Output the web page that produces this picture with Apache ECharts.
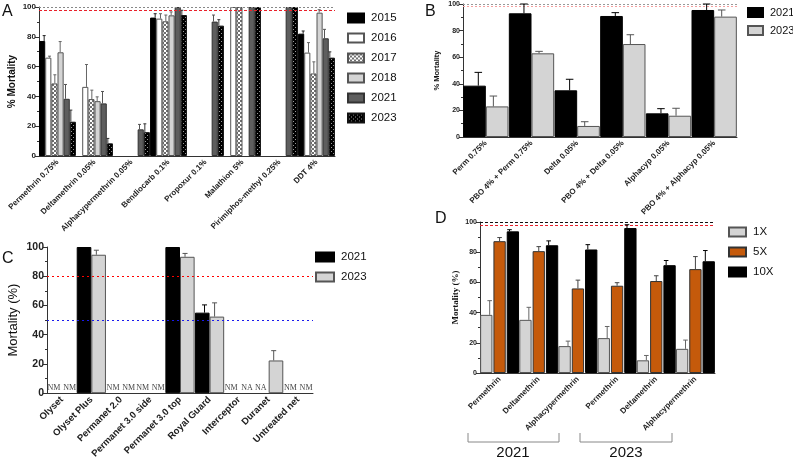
<!DOCTYPE html>
<html>
<head>
<meta charset="utf-8">
<script src="https://cdn.jsdelivr.net/npm/echarts@6/dist/echarts.min.js"></script>
<style>
  html, body { margin: 0; padding: 0; background: #fff; }
  #main { width: 793px; height: 461px; }
</style>
</head>
<body>
<div id="main"></div>
<script>
// Panel A: WHO tube tests by year
const aCats = ['Permethrin 0.75%', 'Deltamethrin 0.05%', 'Alphacypermethrin 0.05%', 'Bendiocarb 0.1%',
  'Propoxur 0.1%', 'Malathion 5%', 'Pirimiphos-methyl 0.25%', 'DDT 4%'];
const aYears = ['2015', '2016', '2017', '2018', '2021', '2023'];
const a2015 = [77.2, null, null, 92.9, null, null, null, 82.1];
const a2015Err = [80.8, null, null, 95.5, null, null, null, 83.9];
const a2016 = [66, 46.4, null, 92.2, null, 100, null, 69.4];
const a2016Err = [67, 61.4, null, 95.5, null, null, null, 76.1];
const a2017 = [48.7, 38.2, null, 90.4, null, 100, null, 55.4];
const a2017Err = [54.5, 44.2, null, 94.6, null, null, null, 63.2];
const a2018 = [69.6, 36.8, null, 94.4, null, null, null, 96.2];
const a2018Err = [76.8, 39.7, null, 96.7, null, null, null, 98.2];
const a2021 = [38.4, 35.3, 17.9, 100, 90.2, 100, 100, 79];
const a2021Err = [48, 43.3, 21.2, null, 94.6, null, null, 85];
const a2023 = [23, 8.5, 16, 94.6, 87.5, 100, 100, 66];
const a2023Err = [30.8, 11.8, 21.6, 97.8, 91.5, null, null, 69.9];

// Panel B: synergist assays
const bCats = ['Perm 0.75%', 'PBO 4% + Perm 0.75%', 'Delta 0.05%', 'PBO 4% + Delta 0.05%',
  'Alphacyp 0.05%', 'PBO 4% + Alphacyp 0.05%'];
const b2021 = [38.6, 93, 35.1, 91, 17.8, 95.5];
const b2021Err = [48.6, 100, 43.4, 93.5, 21.3, 100];
const b2023 = [23, 62.9, 8.3, 69.9, 16, 90.5];
const b2023Err = [30.8, 64.4, 11.5, 76.9, 21.6, 95.5];

// Panel C: net bioassays
const cCats = ['Olyset', 'Olyset Plus', 'Permanet 2.0', 'Permanet 3.0 side', 'Permanet 3.0 top',
  'Royal Guard', 'Interceptor', 'Duranet', 'Untreated net'];
const c2021 = [null, 100, null, null, 100, 55.1, null, null, null];
const c2021Err = [null, null, null, null, null, 60.4, null, null, null];
const c2023 = [null, 94.7, null, null, 93.3, 52.4, null, 22.4, null];
const c2023Err = [null, 97.8, null, null, 95.6, 61.8, null, 29.1, null];
const c2021Note = ['NM', null, 'NM', 'NM', null, null, 'NM', 'NA', 'NM'];
const c2023Note = ['NM', null, 'NM', 'NM', null, null, 'NA', null, 'NM'];

// Panel D: intensity assays
const dCats = ['Permethrin', 'Deltamethrin', 'Alphacypermethrin', 'Permethrin', 'Deltamethrin', 'Alphacypermethrin'];
const dYears = ['2021', '2023'];
const d1x = [38.5, 35.2, 17.8, 23.1, 8.4, 16];
const d1xErr = [47.9, 43.5, 21.1, 30.8, 11.6, 21.8];
const d5x = [87.3, 80.7, 56, 57.8, 60.9, 68.8];
const d5xErr = [89.7, 83.7, 61.5, 59.8, 64.4, 77.1];
const d10x = [93.8, 84.6, 81.8, 96, 71.4, 74];
const d10xErr = [94.9, 87.5, 85, 98.2, 74.5, 81.1];

const SANS = '"Liberation Sans", Arial, sans-serif';
const SERIF = '"Liberation Serif", "Times New Roman", serif';

function makePattern(draw) {
  const c = document.createElement('canvas');
  c.width = 4; c.height = 4;
  draw(c.getContext('2d'));
  return { image: c, repeat: 'repeat' };
}
const checker = makePattern(ctx => {
  ctx.fillStyle = '#fff'; ctx.fillRect(0, 0, 4, 4);
  ctx.fillStyle = '#707070'; ctx.fillRect(0, 0, 2, 2); ctx.fillRect(2, 2, 2, 2);
});
const dotted = makePattern(ctx => {
  ctx.fillStyle = '#000'; ctx.fillRect(0, 0, 4, 4);
  ctx.fillStyle = '#9a9a9a'; ctx.fillRect(1, 1, 1, 1); ctx.fillRect(3, 3, 1, 1);
});

function bar(name, axis, data, color, border, cat, gap, extra) {
  return Object.assign({
    name, type: 'bar', xAxisIndex: axis, yAxisIndex: axis, data,
    barCategoryGap: cat, barGap: gap,
    itemStyle: { color, borderColor: border, borderWidth: 1 },
    emphasis: { disabled: true }
  }, extra || {});
}

function errBars(axis, vals, errs, k, n, cat, gap, color) {
  const data = vals.map((v, i) => [i, v, errs[i]]).filter(d => d[1] != null && d[2] != null);
  return {
    type: 'custom', xAxisIndex: axis, yAxisIndex: axis, data, z: 5, silent: true,
    renderItem(params, api) {
      const band = api.size([1, 0])[0];
      const total = band * (1 - cat);
      const w = total / (n + (n - 1) * gap);
      const cx = api.coord([api.value(0), 0])[0] - total / 2 + k * w * (1 + gap) + w / 2;
      const y0 = api.coord([api.value(0), api.value(1)])[1];
      const y1 = api.coord([api.value(0), api.value(2)])[1];
      const hw = Math.max(w * 0.25, 1.5);
      return {
        type: 'group', children: [
          { type: 'line', shape: { x1: cx, y1: y0, x2: cx, y2: y1 }, style: { stroke: color, lineWidth: 1 } },
          { type: 'line', shape: { x1: cx - hw, y1: y1, x2: cx + hw, y2: y1 }, style: { stroke: color, lineWidth: 1 } }
        ]
      };
    }
  };
}

// NM / NA marks sit a little wider apart than the bars
function notes(axis, list, k) {
  const data = list.map((t, i) => [i, 0, t]).filter(d => d[2]);
  return {
    type: 'custom', xAxisIndex: axis, yAxisIndex: axis, data: data.map(d => [d[0], d[1]]), z: 5, silent: true,
    renderItem(params, api) {
      const band = api.size([1, 0])[0];
      const p = api.coord([api.value(0), 0]);
      const cx = p[0] + (k - 0.5) * band * 0.53;
      return {
        type: 'text', x: cx, y: p[1] - 1,
        style: { text: data[params.dataIndex][2], fill: '#444', font: '8px ' + SERIF, align: 'center', verticalAlign: 'bottom' }
      };
    }
  };
}

function refLines(lines) {
  return {
    silent: true, symbol: 'none', label: { show: false }, animation: false,
    data: lines.map(l => ({ yAxis: l[0], lineStyle: { color: l[1], type: l[2], width: 1 } }))
  };
}

function yAxis(idx, name, nameFont, nameSize, nameWeight, nameGap, labelSize) {
  return {
    gridIndex: idx, type: 'value', min: 0, max: 100, interval: 20,
    name, nameLocation: 'middle', nameGap,
    nameTextStyle: { fontFamily: nameFont, fontSize: nameSize, fontWeight: nameWeight, color: '#111' },
    axisLine: { show: true, lineStyle: { color: '#333' } },
    axisTick: { show: true, length: 4, lineStyle: { color: '#333' } },
    minorTick: { show: true, splitNumber: 2, length: 2, lineStyle: { color: '#333' } },
    splitLine: { show: false },
    axisLabel: { fontFamily: SANS, fontWeight: 'bold', fontSize: labelSize, color: '#222', margin: 3 }
  };
}

function xAxis(idx, cats, size) {
  return {
    gridIndex: idx, type: 'category', data: cats,
    axisLine: { lineStyle: { color: '#333' } },
    axisTick: { alignWithLabel: true, length: 4, lineStyle: { color: '#333' } },
    axisLabel: { interval: 0, rotate: 45, fontFamily: SANS, fontWeight: 'bold', fontSize: size, color: '#222', margin: 5 }
  };
}

const aCol = ['#000', '#fff', checker, '#d4d4d4', '#5e5e5e', dotted];
const aBrd = ['#000', '#555', '#555', '#555', '#333', '#111'];
const aErrCol = ['#222', '#666', '#666', '#666', '#555', '#333'];
const aVals = [a2015, a2016, a2017, a2018, a2021, a2023];
const aErrs = [a2015Err, a2016Err, a2017Err, a2018Err, a2021Err, a2023Err];
const A_CAT = 0.135, A_GAP = 0;

const series = [];
aYears.forEach((y, k) => {
  series.push(bar('A' + y, 0, aVals[k], aCol[k], aBrd[k], A_CAT, A_GAP,
    k === 0 ? { markLine: refLines([[100, '#888', [2, 2]], [98, '#e8202a', [3, 2]]]) } : null));
  series.push(errBars(0, aVals[k], aErrs[k], k, 6, A_CAT, A_GAP, aErrCol[k]));
});

const B_CAT = 0.34;
series.push(bar('B2021', 1, b2021, '#000', '#000', B_CAT, 0,
  { markLine: refLines([[100, '#999', [2, 2]], [98, '#f4a0a0', [2, 2]]]) }));
series.push(bar('B2023', 1, b2023, '#d4d4d4', '#555', B_CAT, 0));
series.push(errBars(1, b2021, b2021Err, 0, 2, B_CAT, 0, '#000'));
series.push(errBars(1, b2023, b2023Err, 1, 2, B_CAT, 0, '#555'));

const C_CAT = 0.32;
series.push(bar('C2021', 2, c2021, '#000', '#000', C_CAT, 0,
  { markLine: refLines([[80, '#f00', [2, 3]], [50, '#1a1aee', [2, 3]]]) }));
series.push(bar('C2023', 2, c2023, '#d4d4d4', '#555', C_CAT, 0));
series.push(errBars(2, c2021, c2021Err, 0, 2, C_CAT, 0, '#000'));
series.push(errBars(2, c2023, c2023Err, 1, 2, C_CAT, 0, '#555'));
series.push(notes(2, c2021Note, 0));
series.push(notes(2, c2023Note, 1));

const D_CAT = 0.26, D_GAP = 0.08;
series.push(bar('D1X', 3, d1x, '#d4d4d4', '#555', D_CAT, D_GAP,
  { markLine: refLines([[100, '#111', [3, 2]], [98, '#e8202a', [3, 2]]]) }));
series.push(bar('D5X', 3, d5x, '#c55a0b', '#333', D_CAT, D_GAP));
series.push(bar('D10X', 3, d10x, '#000', '#000', D_CAT, D_GAP));
series.push(errBars(3, d1x, d1xErr, 0, 3, D_CAT, D_GAP, '#666'));
series.push(errBars(3, d5x, d5xErr, 1, 3, D_CAT, D_GAP, '#444'));
series.push(errBars(3, d10x, d10xErr, 2, 3, D_CAT, D_GAP, '#000'));

function legend(names, left, top, gap, w, h, size) {
  return {
    data: names, left, top, padding: 0, orient: 'vertical', itemGap: gap, itemWidth: w, itemHeight: h,
    icon: 'rect', selectedMode: false,
    formatter: n => n.slice(1),
    textStyle: { fontFamily: SANS, fontSize: size || 11.5, color: '#111', padding: [0, 0, 0, 2] }
  };
}

function panelLetter(t, x, y) {
  return { type: 'text', left: x, top: y, style: { text: t, font: '16px ' + SANS, fill: '#111' } };
}

const chart = echarts.init(document.getElementById('main'));
chart.setOption({
  animation: false,
  grid: [
    { left: 39, top: 7, width: 296, height: 149 },
    { left: 463, top: 4, width: 274, height: 133 },
    { left: 47, top: 247, width: 266, height: 151 },
    { left: 480, top: 222, width: 235, height: 151 }
  ],
  xAxis: [xAxis(0, aCats, 8), xAxis(1, bCats, 8), xAxis(2, cCats, 9.5), xAxis(3, dCats, 8)],
  yAxis: [
    yAxis(0, '% Mortality', SANS, 10, 'bold', 22, 8),
    yAxis(1, '% Mortality', SANS, 7.5, 'bold', 22, 7),
    yAxis(2, 'Mortality (%)', SANS, 13, 'normal', 27, 10.5),
    yAxis(3, 'Mortality (%)', SERIF, 9, 'bold', 20, 7)
  ],
  legend: [
    legend(aYears.map(y => 'A' + y), 347, 12, 8, 16, 9),
    legend(['B2021', 'B2023'], 747, 7, 7, 15, 9, 11),
    legend(['C2021', 'C2023'], 315, 251, 8, 18, 9),
    legend(['D1X', 'D5X', 'D10X'], 728, 226, 8, 17, 9)
  ],
  graphic: [
    panelLetter('A', 2, 4),
    panelLetter('B', 425, 4),
    panelLetter('C', 2, 251),
    panelLetter('D', 435, 211),
    { type: 'polyline', shape: { points: [[468, 433], [468, 442], [559, 442], [559, 433]] }, style: { stroke: '#888', lineWidth: 1, fill: null } },
    { type: 'polyline', shape: { points: [[580, 433], [580, 442], [672, 442], [672, 433]] }, style: { stroke: '#888', lineWidth: 1, fill: null } },
    { type: 'text', x: 513, y: 445, style: { text: dYears[0], font: '15px ' + SANS, fill: '#111', align: 'center' } },
    { type: 'text', x: 626, y: 445, style: { text: dYears[1], font: '15px ' + SANS, fill: '#111', align: 'center' } }
  ],
  series
});
</script>
</body>
</html>
